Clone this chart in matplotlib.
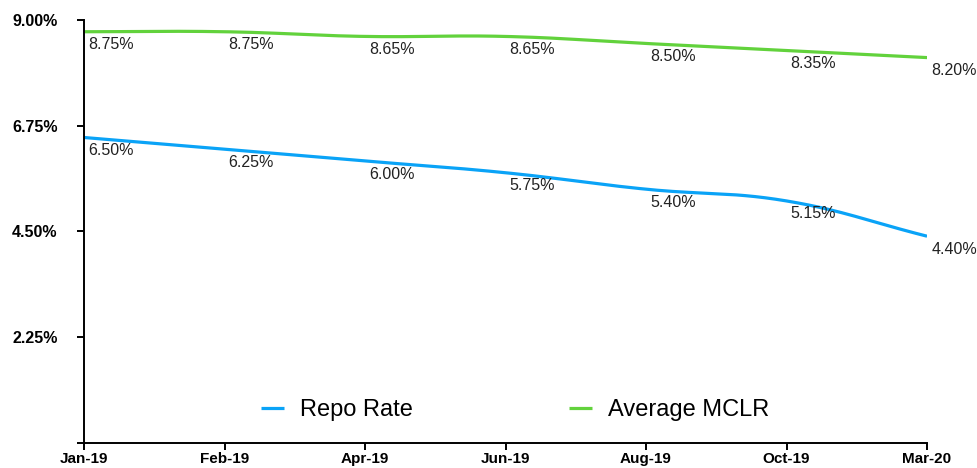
import numpy as np
import matplotlib
matplotlib.use("Agg")
import matplotlib.pyplot as plt
from matplotlib.ticker import FixedLocator, FuncFormatter

plt.rcParams['font.family'] = ['Liberation Sans', 'DejaVu Sans']

months = ["Jan-19", "Feb-19", "Apr-19", "Jun-19", "Aug-19", "Oct-19", "Mar-20"]
repo_rate = [6.50, 6.25, 6.00, 5.75, 5.40, 5.15, 4.40]
avg_mclr = [8.75, 8.75, 8.65, 8.65, 8.50, 8.35, 8.20]
y_ticks = [0, 2.25, 4.50, 6.75, 9.00]

BLUE = "#0aa3f7"
GREEN = "#62d23c"


def tension_curve(x, y, sx, sy, tension=0.4, n=30):
    """Bezier curve through the points, control points like a tension spline.
    sx, sy scale data units to pixels so distances are measured on screen."""
    p = np.column_stack([np.asarray(x, float) * sx, np.asarray(y, float) * sy])
    k = len(p)
    cp_prev = np.zeros_like(p)
    cp_next = np.zeros_like(p)
    for i in range(k):
        prev = p[max(i - 1, 0)]
        nxt = p[min(i + 1, k - 1)]
        d01 = np.hypot(*(p[i] - prev))
        d12 = np.hypot(*(nxt - p[i]))
        tot = d01 + d12
        s01 = d01 / tot if tot else 0
        s12 = d12 / tot if tot else 0
        cp_prev[i] = p[i] - tension * s01 * (nxt - prev)
        cp_next[i] = p[i] + tension * s12 * (nxt - prev)
    t = np.linspace(0, 1, n)[:, None]
    pts = []
    for i in range(k - 1):
        a, b, c, d = p[i], cp_next[i], cp_prev[i + 1], p[i + 1]
        seg = (1 - t)**3 * a + 3 * (1 - t)**2 * t * b + 3 * (1 - t) * t**2 * c + t**3 * d
        pts.append(seg)
    pts = np.vstack(pts)
    return pts[:, 0] / sx, pts[:, 1] / sy


fig = plt.figure(figsize=(9.78, 4.68), dpi=100)
ax = fig.add_axes([0.0859, 0.0534, 0.8620, 0.9039])

x = np.arange(len(months))
for vals, color, label in [(repo_rate, BLUE, "Repo Rate"), (avg_mclr, GREEN, "Average MCLR")]:
    cx, cy = tension_curve(x, vals, 140.0, 47.0)
    ax.plot(cx, cy, color=color, lw=2.3, label=label, solid_capstyle="butt")
    for xi, v in zip(x, vals):
        ax.annotate(f"{v:.2f}%", (xi, v), xytext=(3, -4), textcoords="offset points",
                    ha="left", va="top", fontsize=11.5, color="#222222")

ax.set_xlim(0, len(months) - 1)
ax.set_ylim(0, 9)
ax.set_xticks(x)
ax.set_xticklabels(months, fontweight="bold", fontsize=11)
ax.yaxis.set_major_locator(FixedLocator(y_ticks))
ax.yaxis.set_major_formatter(FuncFormatter(lambda v, p: "" if v == 0 else f"{v:.2f}%"))
for t in ax.get_yticklabels():
    t.set_fontweight("bold")
    t.set_fontsize(11.5)

for s in ["top", "right"]:
    ax.spines[s].set_visible(False)
for s in ["left", "bottom"]:
    ax.spines[s].set_linewidth(1.4)
    ax.spines[s].set_color("black")
ax.tick_params(axis="both", direction="out", length=5, width=1.4, colors="black")
ax.tick_params(axis="x", pad=1.5)
ax.tick_params(axis="y", pad=14)

ax.legend(loc="center", bbox_to_anchor=(0.527, 0.124), bbox_transform=fig.transFigure,
          ncol=2, frameon=False, fontsize=17, handlelength=0.95, handletextpad=0.7,
          columnspacing=6.6)

fig.savefig("out.png", dpi=100)
